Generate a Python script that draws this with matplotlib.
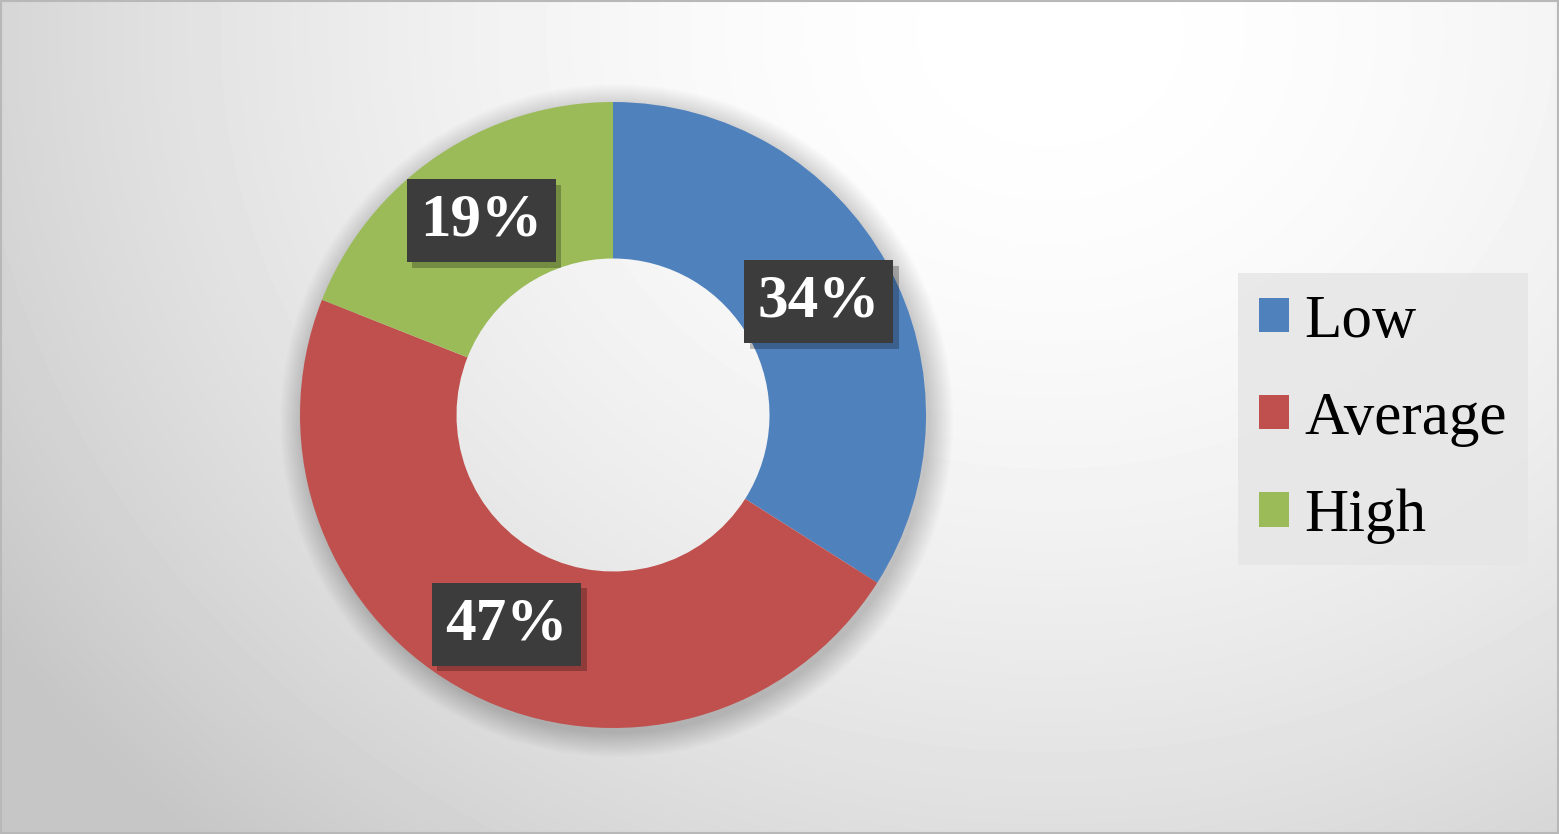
import numpy as np
import matplotlib
matplotlib.use("Agg")
import matplotlib.pyplot as plt
from matplotlib.patches import Patch, Annulus, Rectangle
import matplotlib.patheffects as pe

labels = ["Low", "Average", "High"]
shares = [34, 47, 19]
colors = ["#4F81BD", "#C0504D", "#9BBB59"]

W, H = 1559, 834
fig = plt.figure(figsize=(W / 100, H / 100), dpi=100)

# background: soft radial gradient, lightest near the top right
bg = fig.add_axes([0, 0, 1, 1])
yy, xx = np.mgrid[0:H, 0:W]
d = np.hypot(xx - 1050, (yy - 30) * 1.15) / 1320
v = np.clip(255 - 62 * d ** 1.8, 198, 255) / 255
bg.imshow(v, cmap="gray", vmin=0, vmax=1, aspect="auto", interpolation="bilinear")
bg.axis("off")
bg.add_patch(Rectangle((0.5, 0.5), W - 2, H - 2, fill=False, ec="#b8b8b8", lw=1.5))

# donut
R = 313
half = 360
ax = fig.add_axes([(613 - half) / W, (H - 415 - half) / H, 2 * half / W, 2 * half / H])
ax.patch.set_alpha(0)

# blurred shadow around the ring (outside only)
for k in range(16):
    ax.add_patch(Annulus((0.012, -0.018), 1 + 0.005 * k, 0.1 + 0.005 * k,
                         fc="black", alpha=0.013, lw=0, zorder=0))

wedges, texts, autotexts = ax.pie(
    shares, colors=colors, startangle=90, counterclock=False,
    autopct="%d%%", pctdistance=0.75,
    wedgeprops=dict(width=0.5, linewidth=0),
)
for w in wedges:
    w.set_zorder(2)

for t in autotexts:
    t.set_fontfamily("Liberation Serif")
    t.set_fontweight("bold")
    t.set_fontsize(44)
    t.set_color("white")
    t.set_zorder(5)
    t.set_bbox(dict(boxstyle="square,pad=0.22", fc="#3c3c3c", ec="none"))
    t.get_bbox_patch().set_path_effects([
        pe.SimplePatchShadow(offset=(4, -4), shadow_rgbFace="black", alpha=0.25),
        pe.Normal(),
    ])

lim = half / R
ax.set_xlim(-lim, lim)
ax.set_ylim(-lim, lim)
ax.set_aspect("equal")
ax.axis("off")

# legend
handles = [Patch(facecolor=c, edgecolor="none") for c in colors]
leg = fig.legend(
    handles, labels, loc="center", bbox_to_anchor=(1383 / W, 1 - 419 / H),
    prop=dict(family="Liberation Serif", size=44),
    handlelength=0.5, handleheight=0.5, handletextpad=0.25,
    labelspacing=0.68, borderpad=0.34, frameon=True, fancybox=False,
)
leg.get_frame().set_facecolor("#e6e6e6")
leg.get_frame().set_edgecolor("none")
leg.get_frame().set_alpha(0.85)

fig.savefig("out.png", dpi=100)
